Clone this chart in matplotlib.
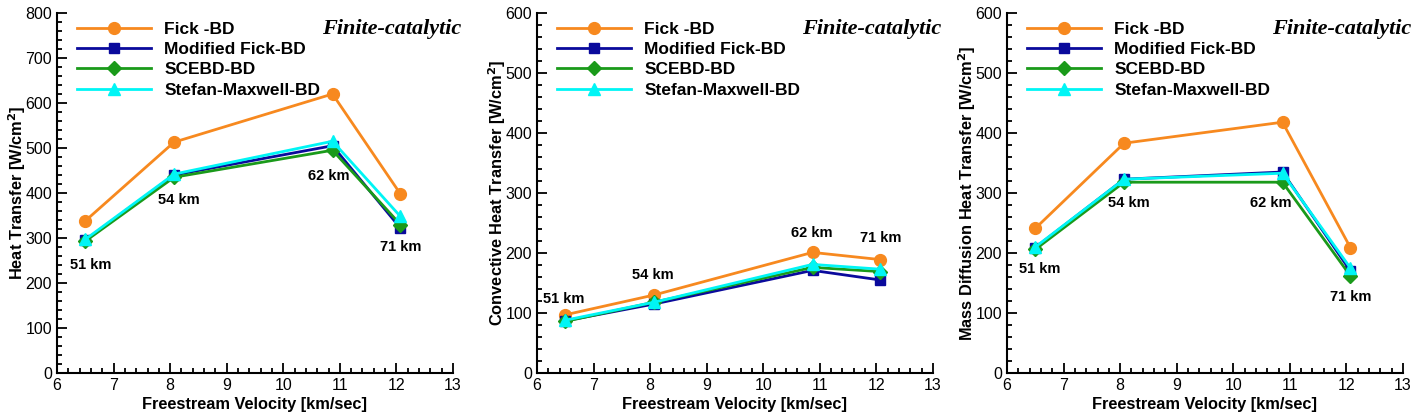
import matplotlib.pyplot as plt
from matplotlib.ticker import MultipleLocator

plt.rcParams['font.family'] = ['Liberation Sans', 'DejaVu Sans']

# freestream velocity [km/sec]
velocity = [6.5, 8.07, 10.87, 12.07]
altitudes = ['51 km', '54 km', '62 km', '71 km']

series_names = ['Fick -BD', 'Modified Fick-BD', 'SCEBD-BD', 'Stefan-Maxwell-BD']

# total heat transfer [W/cm2]
heat_fick = [338, 513, 620, 398]
heat_mod = [295, 440, 505, 322]
heat_scebd = [293, 435, 495, 330]
heat_sm = [297, 442, 515, 348]

# convective heat transfer [W/cm2]
conv_fick = [97, 130, 201, 189]
conv_mod = [87, 115, 171, 155]
conv_scebd = [86, 118, 176, 169]
conv_sm = [88, 118, 181, 173]

# mass diffusion heat transfer [W/cm2]
diff_fick = [241, 383, 418, 209]
diff_mod = [209, 323, 335, 170]
diff_scebd = [206, 318, 318, 162]
diff_sm = [210, 323, 333, 175]

colors = ['#f7891f', '#0a0a9c', '#1a9a1a', '#00f5f5']
markers = ['o', 's', 'D', '^']
msizes = [8.5, 7.5, 7, 8]

panels = [
    ([heat_fick, heat_mod, heat_scebd, heat_sm], 'Heat Transfer [W/cm$^{\\mathbf{2}}$]', 800,
     [(6.6, 240), (8.15, 384), (10.8, 438), (12.07, 280)]),
    ([conv_fick, conv_mod, conv_scebd, conv_sm], 'Convective Heat Transfer [W/cm$^{\\mathbf{2}}$]', 600,
     [(6.47, 123), (8.05, 163), (10.85, 233), (12.07, 225)]),
    ([diff_fick, diff_mod, diff_scebd, diff_sm], 'Mass Diffusion Heat Transfer [W/cm$^{\\mathbf{2}}$]', 600,
     [(6.57, 173), (8.16, 283), (10.67, 283), (12.07, 127)]),
]

fig = plt.figure(figsize=(14.16, 4.19), dpi=100)
lefts = [57, 537, 1007]
W, H = 1416, 419

for (data, ylabel, ymax, label_pos), left in zip(panels, lefts):
    ax = fig.add_axes([left / W, (419 - 373) / H, 396 / W, 360 / H])
    for vals, name, c, m, ms in zip(data, series_names, colors, markers, msizes):
        ax.plot(velocity, vals, color=c, marker=m, markersize=ms, linewidth=2, label=name)
    for txt, (tx, ty) in zip(altitudes, label_pos):
        ax.text(tx, ty, txt, ha='center', va='center', fontsize=10.5, fontweight='bold')
    ax.set_xlim(6, 13)
    ax.set_ylim(0, ymax)
    ax.xaxis.set_major_locator(MultipleLocator(1))
    ax.xaxis.set_minor_locator(MultipleLocator(0.2))
    ax.yaxis.set_major_locator(MultipleLocator(100))
    ax.yaxis.set_minor_locator(MultipleLocator(20))
    ax.tick_params(which='both', direction='in', labelsize=11.5, width=1.3)
    ax.tick_params(which='major', length=7)
    ax.tick_params(which='minor', length=3.5)
    ax.spines['top'].set_visible(False)
    ax.spines['right'].set_visible(False)
    for s in ['left', 'bottom']:
        ax.spines[s].set_linewidth(1.5)
    ax.set_xlabel('Freestream Velocity [km/sec]', fontsize=11.8, fontweight='bold', labelpad=3)
    ax.set_ylabel(ylabel, fontsize=11.8, fontweight='bold', labelpad=-2)
    ax.text(1.02, 0.955, 'Finite-catalytic', transform=ax.transAxes, ha='right', va='center',
            fontsize=16, fontweight='bold', fontstyle='italic', family='Liberation Serif')
    leg = ax.legend(loc='upper left', bbox_to_anchor=(0.01, 1.02), frameon=False,
                    handlelength=4.3, fontsize=12.5, labelspacing=0.3, handletextpad=0.75)
    for t in leg.get_texts():
        t.set_fontweight('bold')

fig.savefig('out.png', dpi=100)
